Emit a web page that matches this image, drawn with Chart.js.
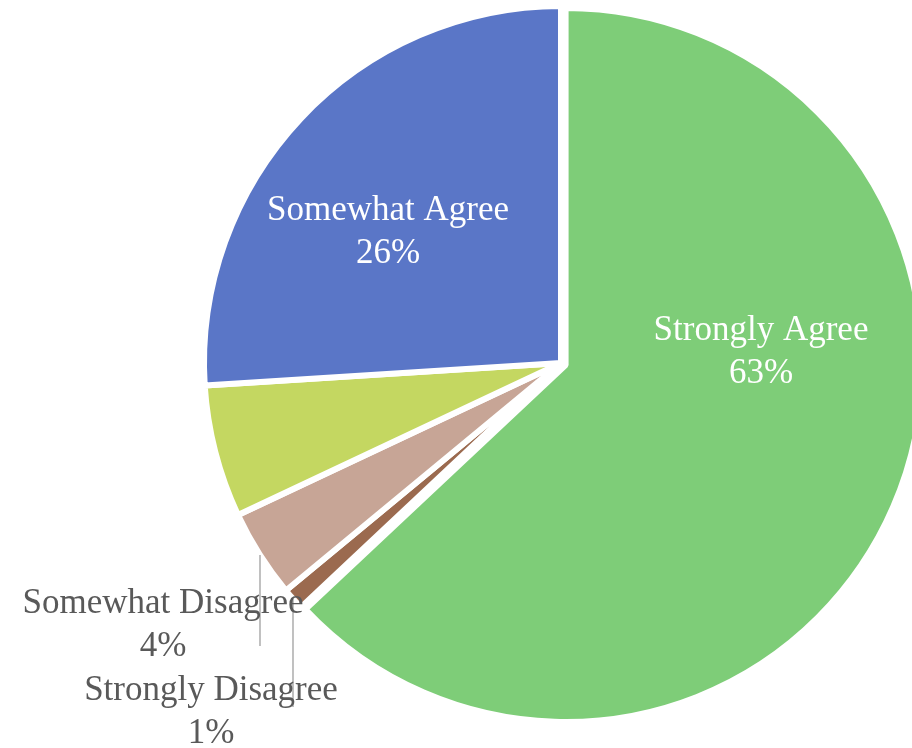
<!DOCTYPE html>
<html>
<head>
<meta charset="utf-8">
<script src="https://cdn.jsdelivr.net/npm/chart.js@4/dist/chart.umd.min.js"></script>
<style>
  html, body { margin: 0; padding: 0; background: #ffffff; overflow: hidden; }
  #wrap { position: absolute; left: 0; top: 0; }
</style>
</head>
<body>
<div id="wrap"><canvas id="pie" width="1122" height="748"></canvas></div>
<script>
// Survey responses, share of respondents (%)
const categories = ['Strongly Agree', 'Strongly Disagree', 'Somewhat Disagree', 'Neutral', 'Somewhat Agree'];
const shares = [63, 1, 4, 6, 26];
const sliceColors = ['#7ECD78', '#9B6A4F', '#C7A596', '#C4D761', '#5A76C7'];
const labelled = [true, true, true, false, true];

const FONT = '35px "Liberation Serif", "Times New Roman", serif';
const LINE_GAP = 43;

// Where each label sits (first-line baseline) and how it is drawn
const labelLayout = {
  0: { x: 761, y: 340, color: '#FFFFFF' },
  4: { x: 388, y: 220, color: '#FFFFFF' },
  2: { x: 163, y: 613, color: '#595959', leaderX: 260, leaderEnd: 646 },
  1: { x: 211, y: 700, color: '#595959', leaderX: 293, leaderEnd: 707 }
};

// Pulls the first slice out from the centre along its mid-angle
const explodePlugin = {
  id: 'explodeFirst',
  afterDatasetUpdate(chart, args) {
    const arc = chart.getDatasetMeta(args.index).data[0];
    if (!arc) return;
    const mid = (arc.startAngle + arc.endAngle) / 2;
    const d = 5;
    arc.x += Math.cos(mid) * d;
    arc.y += Math.sin(mid) * d;
  }
};

// Category name + percentage, with leader lines for the narrow slices
const labelPlugin = {
  id: 'sliceLabels',
  afterDatasetsDraw(chart) {
    const ctx = chart.ctx;
    const meta = chart.getDatasetMeta(0);
    ctx.save();
    ctx.font = FONT;
    ctx.textAlign = 'center';
    ctx.textBaseline = 'alphabetic';
    meta.data.forEach((arc, i) => {
      if (!labelled[i]) return;
      const lay = labelLayout[i];
      if (!lay) return;
      if (lay.leaderX !== undefined) {
        const dx = lay.leaderX - arc.x;
        const r = arc.outerRadius;
        const yStart = arc.y + Math.sqrt(Math.max(r * r - dx * dx, 0));
        ctx.beginPath();
        ctx.strokeStyle = '#A6A6A6';
        ctx.lineWidth = 1.4;
        ctx.moveTo(lay.leaderX, yStart);
        ctx.lineTo(lay.leaderX, lay.leaderEnd);
        ctx.stroke();
      }
      ctx.fillStyle = lay.color;
      ctx.fillText(categories[i], lay.x, lay.y);
      ctx.fillText(shares[i] + '%', lay.x, lay.y + LINE_GAP);
    });
    ctx.restore();
  }
};

new Chart(document.getElementById('pie'), {
  type: 'pie',
  data: {
    labels: categories,
    datasets: [{
      data: shares,
      backgroundColor: sliceColors,
      borderColor: '#FFFFFF',
      borderWidth: 6,
      hoverOffset: 0
    }]
  },
  options: {
    responsive: false,
    animation: false,
    radius: 357,
    layout: { padding: { top: 0, left: 0, right: 0, bottom: 22 } },
    plugins: {
      legend: { display: false },
      tooltip: { enabled: false },
      title: { display: false }
    }
  },
  plugins: [explodePlugin, labelPlugin]
});
</script>
</body>
</html>
